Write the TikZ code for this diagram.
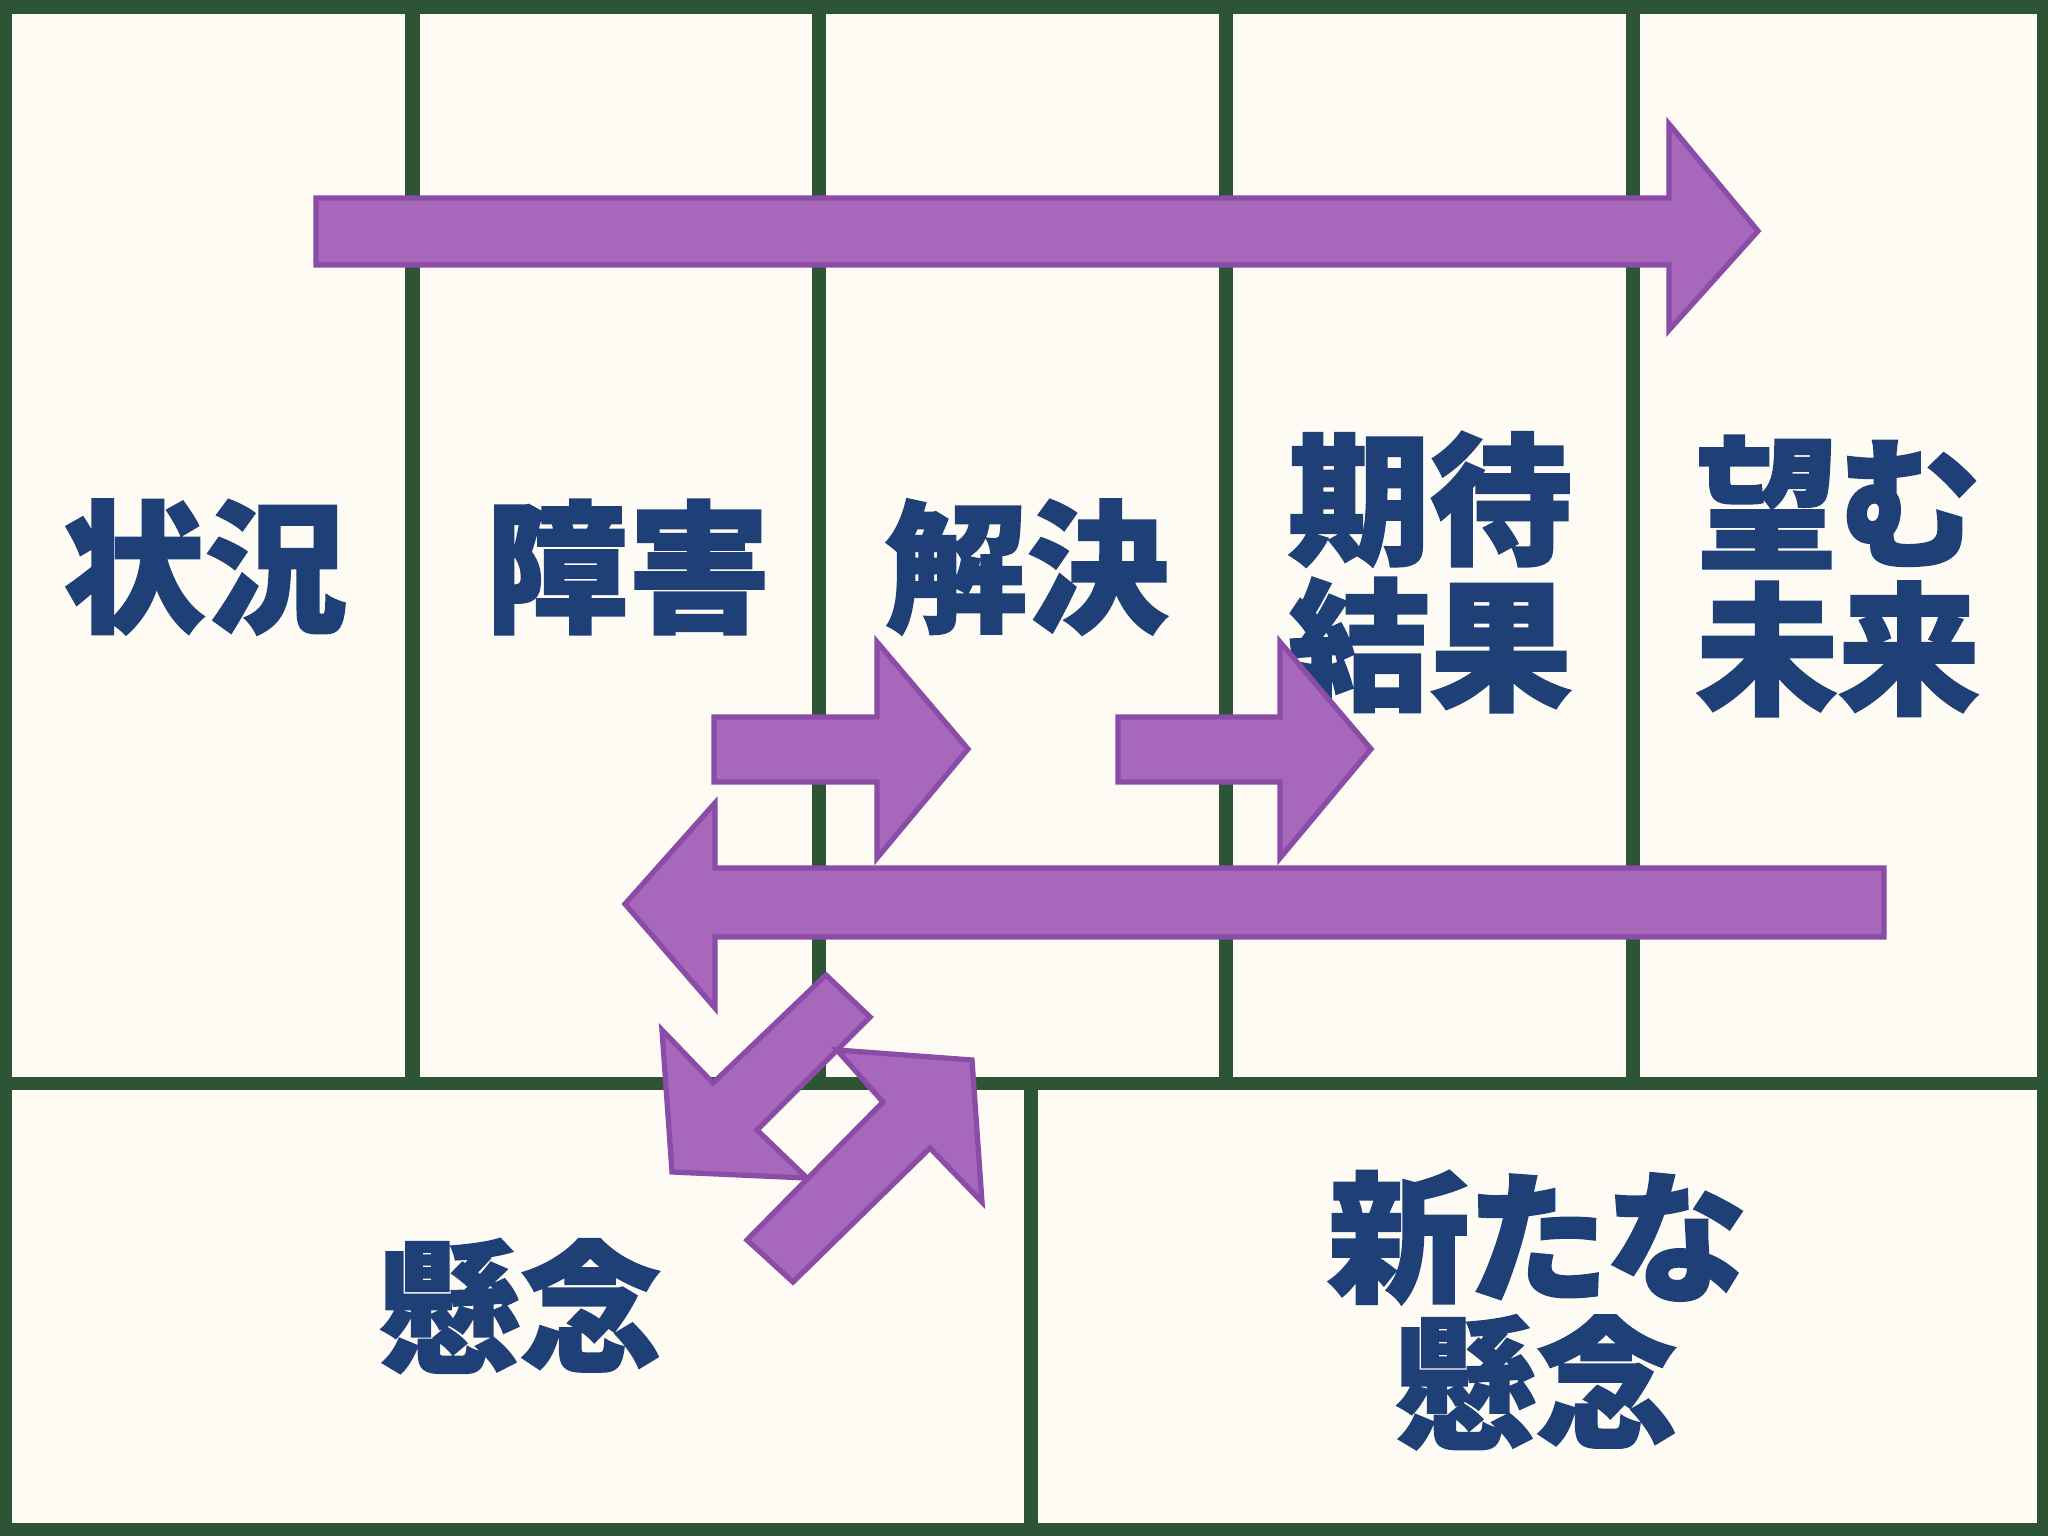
\documentclass[tikz,border=0pt]{standalone}
\usepackage{fontspec}
\newfontfamily\jpfont{Noto Sans CJK JP}[BoldFeatures={FakeBold=1.6}]
\usepackage{tikz}
\usetikzlibrary{calc}
\definecolor{gridgreen}{HTML}{2D5535}
\definecolor{paper}{HTML}{FDFBF4}
\definecolor{arrowfill}{HTML}{A768BC}
\definecolor{arrowedge}{HTML}{8A4CA6}
\definecolor{wordblue}{HTML}{1F3F77}
\tikzset{
    cell/.style={fill=paper},
    word/.style={text=wordblue, inner sep=0pt, align=center, font=\jpfont\bfseries\fontsize{40.4pt}{41.5pt}\selectfont},
    blockarrow/.style={fill=arrowfill, draw=arrowedge, line width=1.5pt, line join=miter}
}

\begin{document}
\begin{tikzpicture}[x=0.01cm, y=-0.01cm]
    % Frame
    \fill[gridgreen] (0,0) rectangle (2048,1536);
    \useasboundingbox (0,0) rectangle (2048,1536);

    % Cells
    \foreach \l/\r in {12/405, 420/812, 826/1219, 1233/1626, 1640/2037}
        \fill[cell] (\l,14) rectangle (\r,1077);
    \fill[cell] (12,1090) rectangle (1024,1523);
    \fill[cell] (1038,1090) rectangle (2037,1523);

    % Text
    \node[word] (situation) at (205,567) {状況};
    \node[word] (obstacle) at (628,567) {障害};
    \node[word] (solution) at (1027,567) {解決};
    \node[word] (result) at (1430,572) {期待\\結果};
    \node[word] (future) at (1838,576) {望む\\未来};
    \node[word] (concern) at (520,1306) {懸念};
    \node[word] (newconcern) at (1536,1310) {{\addfontfeature{RawFeature=+palt}新たな}\\懸念};

    % Arrows
    \draw[blockarrow] (316,198) -- (1669,198) -- (1669,124) -- (1758,231) -- (1669,330) -- (1669,265) -- (316,265) -- cycle;
    \draw[blockarrow] (714,717) -- (877,717) -- (877,642) -- (968,749) -- (877,858) -- (877,782) -- (714,782) -- cycle;
    \draw[blockarrow] (1118,717) -- (1280,717) -- (1280,642) -- (1371,749) -- (1280,858) -- (1280,782) -- (1118,782) -- cycle;
    \draw[blockarrow] (1884,868) -- (715,868) -- (715,803) -- (625,904) -- (715,1008) -- (715,937) -- (1884,937) -- cycle;

    % Loop
    \draw[blockarrow] (826,975) -- (870,1017) -- (757,1130) -- (807,1178) -- (672,1172) -- (662,1030) -- (713,1083) -- cycle;
    \draw[blockarrow] (747,1240) -- (883,1102) -- (837,1050) -- (972,1060) -- (982,1202) -- (930,1148) -- (793,1282) -- cycle;
\end{tikzpicture}
\end{document}
